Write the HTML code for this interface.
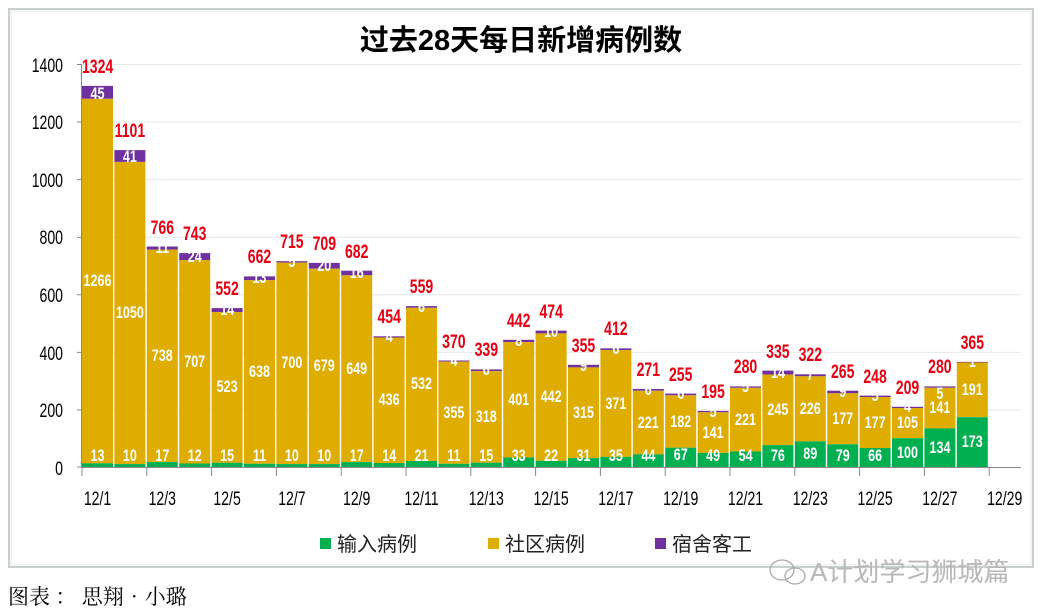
<!DOCTYPE html>
<html><head><meta charset="utf-8"><style>
body{margin:0;background:#fff;width:1042px;height:615px;overflow:hidden}
svg{display:block}
text.s,.n text,.t text,.ax text{transform-box:fill-box;transform-origin:center;transform:scaleX(0.74)}
.n{font-family:"Liberation Sans",sans-serif;font-weight:bold;font-size:17px;fill:#fff;text-anchor:middle}
.t{font-family:"Liberation Sans",sans-serif;font-weight:bold;font-size:19px;fill:#e60012;text-anchor:middle}
.ax{font-family:"Liberation Sans",sans-serif;font-size:19px;fill:#000}
.ax.r text{transform-origin:right center}
.cjk{font-family:"Liberation Sans","Noto Sans CJK SC",sans-serif}
</style></head><body>
<svg width="1042" height="615" viewBox="0 0 1042 615">
<rect x="9" y="9" width="1024" height="558" fill="#fff" stroke="#c9d0cf" stroke-width="2"/>
<rect x="11" y="11" width="1020" height="554" fill="none" stroke="#e6eaea" stroke-width="1"/>
<text x="521" y="50" text-anchor="middle" class="cjk" font-size="29" font-weight="bold" fill="#000">过去28天每日新增病例数</text>
<g stroke="#e8e8e8" stroke-width="1">
<line x1="81" y1="64.5" x2="1021" y2="64.5"/><line x1="81" y1="122" x2="1021" y2="122"/><line x1="81" y1="179.6" x2="1021" y2="179.6"/><line x1="81" y1="237.3" x2="1021" y2="237.3"/><line x1="81" y1="294.7" x2="1021" y2="294.7"/><line x1="81" y1="352.4" x2="1021" y2="352.4"/><line x1="81" y1="409.9" x2="1021" y2="409.9"/>
</g>
<g class="ax r" text-anchor="end">
<text x="63" y="72">1400</text><text x="63" y="129">1200</text><text x="63" y="187">1000</text><text x="63" y="244">800</text><text x="63" y="302">600</text><text x="63" y="360">400</text><text x="63" y="417">200</text><text x="63" y="475">0</text>
</g>
<g stroke="#888" stroke-width="1">
<line x1="81.5" y1="64" x2="81.5" y2="467"/>
<line x1="77" y1="64.5" x2="81" y2="64.5"/><line x1="77" y1="122" x2="81" y2="122"/><line x1="77" y1="179.6" x2="81" y2="179.6"/><line x1="77" y1="237.3" x2="81" y2="237.3"/><line x1="77" y1="294.7" x2="81" y2="294.7"/><line x1="77" y1="352.4" x2="81" y2="352.4"/><line x1="77" y1="409.9" x2="81" y2="409.9"/><line x1="77" y1="467" x2="81" y2="467"/>
<line x1="81" y1="467.5" x2="1021" y2="467.5"/>
<line x1="82" y1="467" x2="82" y2="476"/><line x1="146.8" y1="467" x2="146.8" y2="476"/><line x1="211.6" y1="467" x2="211.6" y2="476"/><line x1="276.4" y1="467" x2="276.4" y2="476"/><line x1="341.2" y1="467" x2="341.2" y2="476"/><line x1="406" y1="467" x2="406" y2="476"/><line x1="470.8" y1="467" x2="470.8" y2="476"/><line x1="535.6" y1="467" x2="535.6" y2="476"/><line x1="600.4" y1="467" x2="600.4" y2="476"/><line x1="665.2" y1="467" x2="665.2" y2="476"/><line x1="730" y1="467" x2="730" y2="476"/><line x1="794.8" y1="467" x2="794.8" y2="476"/><line x1="859.6" y1="467" x2="859.6" y2="476"/><line x1="924.4" y1="467" x2="924.4" y2="476"/><line x1="989.2" y1="467" x2="989.2" y2="476"/>
</g>
<g class="ax" text-anchor="middle">
<text x="97.5" y="505">12/1</text><text x="162.3" y="505">12/3</text><text x="227.1" y="505">12/5</text><text x="291.9" y="505">12/7</text><text x="356.7" y="505">12/9</text><text x="421.5" y="505">12/11</text><text x="486.3" y="505">12/13</text><text x="551.1" y="505">12/15</text><text x="615.9" y="505">12/17</text><text x="680.7" y="505">12/19</text><text x="745.5" y="505">12/21</text><text x="810.3" y="505">12/23</text><text x="875.1" y="505">12/25</text><text x="939.9" y="505">12/27</text><text x="1004.7" y="505">12/29</text>
</g>
<g>
<rect x="82" y="85.9" width="31" height="12.9" fill="#7030a0"/><rect x="82" y="98.8" width="31" height="364.5" fill="#dfac00"/><rect x="82" y="463.3" width="31" height="3.7" fill="#00b050"/>
<rect x="114.4" y="150.1" width="31" height="11.8" fill="#7030a0"/><rect x="114.4" y="161.9" width="31" height="302.2" fill="#dfac00"/><rect x="114.4" y="464.1" width="31" height="2.9" fill="#00b050"/>
<rect x="146.8" y="246.5" width="31" height="3.2" fill="#7030a0"/><rect x="146.8" y="249.7" width="31" height="212.4" fill="#dfac00"/><rect x="146.8" y="462.1" width="31" height="4.9" fill="#00b050"/>
<rect x="179.2" y="253.1" width="31" height="6.9" fill="#7030a0"/><rect x="179.2" y="260" width="31" height="203.5" fill="#dfac00"/><rect x="179.2" y="463.5" width="31" height="3.5" fill="#00b050"/>
<rect x="211.6" y="308.1" width="31" height="4" fill="#7030a0"/><rect x="211.6" y="312.1" width="31" height="150.6" fill="#dfac00"/><rect x="211.6" y="462.7" width="31" height="4.3" fill="#00b050"/>
<rect x="244" y="276.4" width="31" height="3.8" fill="#7030a0"/><rect x="244" y="280.2" width="31" height="183.6" fill="#dfac00"/><rect x="244" y="463.8" width="31" height="3.2" fill="#00b050"/>
<rect x="276.4" y="261.2" width="31" height="1.4" fill="#7030a0"/><rect x="276.4" y="262.6" width="31" height="201.5" fill="#dfac00"/><rect x="276.4" y="464.1" width="31" height="2.9" fill="#00b050"/>
<rect x="308.8" y="262.9" width="31" height="5.8" fill="#7030a0"/><rect x="308.8" y="268.7" width="31" height="195.4" fill="#dfac00"/><rect x="308.8" y="464.1" width="31" height="2.9" fill="#00b050"/>
<rect x="341.2" y="270.7" width="31" height="4.6" fill="#7030a0"/><rect x="341.2" y="275.3" width="31" height="186.8" fill="#dfac00"/><rect x="341.2" y="462.1" width="31" height="4.9" fill="#00b050"/>
<rect x="373.6" y="336.3" width="31" height="1.2" fill="#7030a0"/><rect x="373.6" y="337.5" width="31" height="125.5" fill="#dfac00"/><rect x="373.6" y="463" width="31" height="4" fill="#00b050"/>
<rect x="406" y="306.1" width="31" height="1.7" fill="#7030a0"/><rect x="406" y="307.8" width="31" height="153.2" fill="#dfac00"/><rect x="406" y="461" width="31" height="6" fill="#00b050"/>
<rect x="438.4" y="360.5" width="31" height="1.1" fill="#7030a0"/><rect x="438.4" y="361.6" width="31" height="102.2" fill="#dfac00"/><rect x="438.4" y="463.8" width="31" height="3.2" fill="#00b050"/>
<rect x="470.8" y="369.4" width="31" height="1.7" fill="#7030a0"/><rect x="470.8" y="371.1" width="31" height="91.6" fill="#dfac00"/><rect x="470.8" y="462.7" width="31" height="4.3" fill="#00b050"/>
<rect x="503.2" y="339.8" width="31" height="2.3" fill="#7030a0"/><rect x="503.2" y="342.1" width="31" height="115.4" fill="#dfac00"/><rect x="503.2" y="457.5" width="31" height="9.5" fill="#00b050"/>
<rect x="535.6" y="330.6" width="31" height="2.8" fill="#7030a0"/><rect x="535.6" y="333.4" width="31" height="127.3" fill="#dfac00"/><rect x="535.6" y="460.7" width="31" height="6.3" fill="#00b050"/>
<rect x="568" y="364.8" width="31" height="2.6" fill="#7030a0"/><rect x="568" y="367.4" width="31" height="90.7" fill="#dfac00"/><rect x="568" y="458.1" width="31" height="8.9" fill="#00b050"/>
<rect x="600.4" y="348.4" width="31" height="1.7" fill="#7030a0"/><rect x="600.4" y="350.1" width="31" height="106.8" fill="#dfac00"/><rect x="600.4" y="456.9" width="31" height="10.1" fill="#00b050"/>
<rect x="632.8" y="389" width="31" height="1.7" fill="#7030a0"/><rect x="632.8" y="390.7" width="31" height="63.6" fill="#dfac00"/><rect x="632.8" y="454.3" width="31" height="12.7" fill="#00b050"/>
<rect x="665.2" y="393.6" width="31" height="1.7" fill="#7030a0"/><rect x="665.2" y="395.3" width="31" height="52.4" fill="#dfac00"/><rect x="665.2" y="447.7" width="31" height="19.3" fill="#00b050"/>
<rect x="697.6" y="410.9" width="31" height="1.4" fill="#7030a0"/><rect x="697.6" y="412.3" width="31" height="40.6" fill="#dfac00"/><rect x="697.6" y="452.9" width="31" height="14.1" fill="#00b050"/>
<rect x="730" y="386.4" width="31" height="1.4" fill="#7030a0"/><rect x="730" y="387.8" width="31" height="63.7" fill="#dfac00"/><rect x="730" y="451.5" width="31" height="15.5" fill="#00b050"/>
<rect x="762.4" y="370.6" width="31" height="4" fill="#7030a0"/><rect x="762.4" y="374.6" width="31" height="70.5" fill="#dfac00"/><rect x="762.4" y="445.1" width="31" height="21.9" fill="#00b050"/>
<rect x="794.8" y="374.3" width="31" height="2" fill="#7030a0"/><rect x="794.8" y="376.3" width="31" height="65.1" fill="#dfac00"/><rect x="794.8" y="441.4" width="31" height="25.6" fill="#00b050"/>
<rect x="827.2" y="390.7" width="31" height="2.6" fill="#7030a0"/><rect x="827.2" y="393.3" width="31" height="51" fill="#dfac00"/><rect x="827.2" y="444.3" width="31" height="22.7" fill="#00b050"/>
<rect x="859.6" y="395.6" width="31" height="1.4" fill="#7030a0"/><rect x="859.6" y="397" width="31" height="51" fill="#dfac00"/><rect x="859.6" y="448" width="31" height="19" fill="#00b050"/>
<rect x="892" y="406.8" width="31" height="1.2" fill="#7030a0"/><rect x="892" y="408" width="31" height="30.2" fill="#dfac00"/><rect x="892" y="438.2" width="31" height="28.8" fill="#00b050"/>
<rect x="924.4" y="386.4" width="31" height="1.4" fill="#7030a0"/><rect x="924.4" y="387.8" width="31" height="40.6" fill="#dfac00"/><rect x="924.4" y="428.4" width="31" height="38.6" fill="#00b050"/>
<rect x="956.8" y="361.9" width="31" height="0.6" fill="#7030a0"/><rect x="956.8" y="362.5" width="31" height="54.7" fill="#dfac00"/><rect x="956.8" y="417.2" width="31" height="49.8" fill="#00b050"/>
</g>
<g class="n">
<text x="97.5" y="461">13</text><text x="129.9" y="461">10</text><text x="162.3" y="461">17</text><text x="194.7" y="461">12</text><text x="227.1" y="461">15</text><text x="259.5" y="461">11</text><text x="291.9" y="461">10</text><text x="324.3" y="461">10</text><text x="356.7" y="461">17</text><text x="389.1" y="461">14</text><text x="421.5" y="461">21</text><text x="453.9" y="461">11</text><text x="486.3" y="461">15</text><text x="518.7" y="461">33</text><text x="551.1" y="461">22</text><text x="583.5" y="461">31</text><text x="615.9" y="461">35</text><text x="648.3" y="461">44</text><text x="680.7" y="460">67</text><text x="713.1" y="461">49</text><text x="745.5" y="461">54</text><text x="777.9" y="461">76</text><text x="810.3" y="459">89</text><text x="842.7" y="461">79</text><text x="875.1" y="461">66</text><text x="907.5" y="458">100</text><text x="939.9" y="453">134</text><text x="972.3" y="447">173</text>
<text x="97.5" y="286">1266</text><text x="129.9" y="318">1050</text><text x="162.3" y="361">738</text><text x="194.7" y="367">707</text><text x="227.1" y="392">523</text><text x="259.5" y="377">638</text><text x="291.9" y="368">700</text><text x="324.3" y="371">679</text><text x="356.7" y="374">649</text><text x="389.1" y="405">436</text><text x="421.5" y="389">532</text><text x="453.9" y="418">355</text><text x="486.3" y="422">318</text><text x="518.7" y="405">401</text><text x="551.1" y="402">442</text><text x="583.5" y="418">315</text><text x="615.9" y="409">371</text><text x="648.3" y="428">221</text><text x="680.7" y="427">182</text><text x="713.1" y="438">141</text><text x="745.5" y="425">221</text><text x="777.9" y="415">245</text><text x="810.3" y="414">226</text><text x="842.7" y="424">177</text><text x="875.1" y="428">177</text><text x="907.5" y="428">105</text><text x="939.9" y="413">141</text><text x="972.3" y="395">191</text>
<text x="97.5" y="99">45</text><text x="129.9" y="162">41</text><text x="162.3" y="253">11</text><text x="194.7" y="262">24</text><text x="227.1" y="315">14</text><text x="259.5" y="283">13</text><text x="291.9" y="267">5</text><text x="324.3" y="271">20</text><text x="356.7" y="278">16</text><text x="389.1" y="342">4</text><text x="421.5" y="312">6</text><text x="453.9" y="366">4</text><text x="486.3" y="375">6</text><text x="518.7" y="346">8</text><text x="551.1" y="337">10</text><text x="583.5" y="371">9</text><text x="615.9" y="354">6</text><text x="648.3" y="395">6</text><text x="680.7" y="399">6</text><text x="713.1" y="417">5</text><text x="745.5" y="392">5</text><text x="777.9" y="378">14</text><text x="810.3" y="380">7</text><text x="842.7" y="397">9</text><text x="875.1" y="401">5</text><text x="907.5" y="412">4</text><text x="939.9" y="399">5</text><text x="972.3" y="367">1</text>
</g>
<g class="t">
<text x="97.5" y="73">1324</text><text x="129.9" y="137">1101</text><text x="162.3" y="234">766</text><text x="194.7" y="240">743</text><text x="227.1" y="295">552</text><text x="259.5" y="263">662</text><text x="291.9" y="248">715</text><text x="324.3" y="250">709</text><text x="356.7" y="258">682</text><text x="389.1" y="323">454</text><text x="421.5" y="293">559</text><text x="453.9" y="348">370</text><text x="486.3" y="356">339</text><text x="518.7" y="327">442</text><text x="551.1" y="318">474</text><text x="583.5" y="352">355</text><text x="615.9" y="335">412</text><text x="648.3" y="376">271</text><text x="680.7" y="381">255</text><text x="713.1" y="398">195</text><text x="745.5" y="373">280</text><text x="777.9" y="358">335</text><text x="810.3" y="361">322</text><text x="842.7" y="378">265</text><text x="875.1" y="383">248</text><text x="907.5" y="394">209</text><text x="939.9" y="373">280</text><text x="972.3" y="349">365</text>
</g>
<g class="cjk" font-size="20" fill="#222">
<rect x="320" y="538" width="11" height="11" fill="#00b050"/><text x="337" y="551">输入病例</text>
<rect x="488" y="538" width="11" height="11" fill="#dfac00"/><text x="505" y="551">社区病例</text>
<rect x="655" y="538" width="11" height="11" fill="#7030a0"/><text x="672" y="551">宿舍客工</text>
</g>
<g fill="none" stroke="#aaa" stroke-width="1.3">
<ellipse cx="782" cy="570" rx="12" ry="10"/><ellipse cx="795" cy="576" rx="10" ry="8"/>
</g>
<text x="810" y="581" class="cjk" font-size="26" fill="#b8b8b8">A计划学习狮城篇</text>
<text x="8" y="604" font-family="'Noto Serif CJK SC','Liberation Serif',serif" font-size="21" fill="#000">图表 ： 思翔•小璐</text>
</svg>
</body></html>
